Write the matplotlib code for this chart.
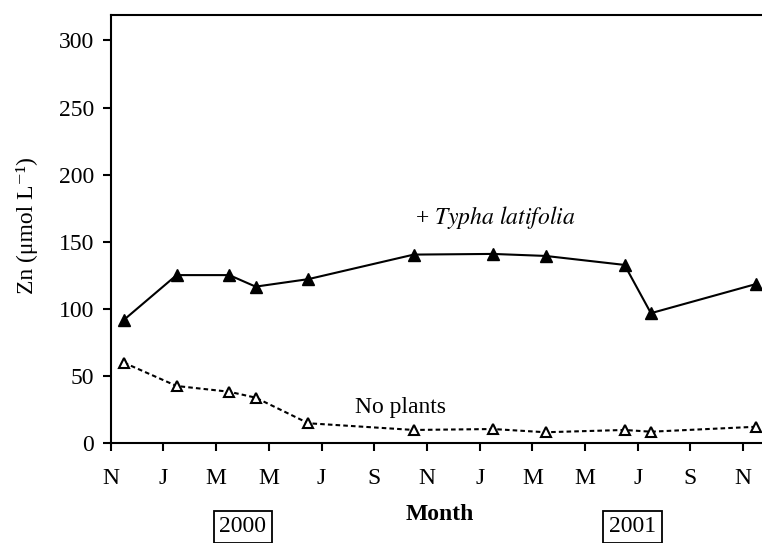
import numpy as np
import matplotlib
matplotlib.use('Agg')
import matplotlib.pyplot as plt

#************ data ***************************************
# month index: 0 = Nov 1999, samples taken mid-month
month_typha=[0.5, 2.5, 4.5, 5.5, 7.5, 11.5, 14.5, 16.5, 19.5, 20.5, 24.5]
zn_typha   =[91.6, 125, 125, 116.4, 122, 140.3, 140.8, 139.3, 132.6, 96.6, 118.4]

month_none =[0.5, 2.5, 4.5, 5.5, 7.5, 11.5, 14.5, 16.5, 19.5, 20.5, 24.5]
zn_none    =[59.7, 42.3, 38, 33.6, 14.5, 9.5, 10.2, 7.8, 9.5, 8.2, 11.9]

xtick_pos   =[0, 2, 4, 6, 8, 10, 12, 14, 16, 18, 20, 22, 24]
xtick_labels=['N', 'J', 'M', 'M', 'J', 'S', 'N', 'J', 'M', 'M', 'J', 'S', 'N']
ytick_pos   =[0, 50, 100, 150, 200, 250, 300]
#************ end of data ******************

fontsize=17
plt.rcParams['font.family']=['Liberation Serif', 'DejaVu Serif']
plt.rcParams['mathtext.fontset']='stix'

W, H = 762, 543
fig=plt.figure(figsize=(W/100., H/100.), dpi=100)
ax=fig.add_axes([110.7/W, 1-442.7/H, (769.5-110.7)/W, (442.7-15)/H])

ax.plot(month_typha, zn_typha, color='black', lw=1.5, marker='^', ms=9,
        mfc='black', mec='black', clip_on=False, zorder=3)
ax.plot(month_none, zn_none, color='black', lw=1.5, ls=(0, (2.2, 1.5)),
        marker='^', ms=7.5, mfc='white', mec='black', mew=1.5,
        clip_on=False, zorder=3)

ax.set_xlim(0, 25)
ax.set_ylim(0, 319)
ax.set_xticks(xtick_pos)
ax.set_xticklabels(xtick_labels)
ax.set_yticks(ytick_pos)

for s in ['left', 'bottom', 'top']:
    ax.spines[s].set_linewidth(1.5)
ax.spines['right'].set_visible(False)
ax.tick_params(direction='out', length=6, width=1.5, labelsize=fontsize, pad=6)
ax.tick_params(axis='x', pad=12)

ax.text(11.55, 167.7, r'+ $\mathit{Typha\ latifolia}$', fontsize=fontsize,
        ha='left', va='center')
ax.text(9.27, 25.9, 'No plants', fontsize=fontsize, ha='left', va='center')

fig.text(27/W, 1-226/H, 'Zn (μmol L⁻¹)', rotation=90, fontsize=fontsize,
         ha='center', va='center')
fig.text(440/W, 1-515/H, 'Month', fontsize=fontsize, fontweight='bold',
         ha='center', va='center')

box=dict(boxstyle='square,pad=0.25', fc='white', ec='black', lw=1.3)
fig.text(243/W, 1-527/H, '2000', fontsize=fontsize, ha='center', va='center', bbox=box)
fig.text(632.7/W, 1-527/H, '2001', fontsize=fontsize, ha='center', va='center', bbox=box)

fig.savefig('out.png', dpi=100)
